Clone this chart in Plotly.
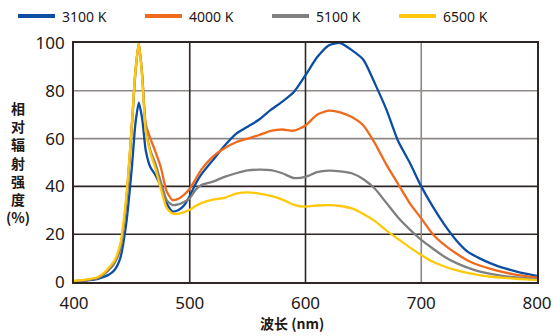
import plotly.graph_objects as go

# Relative spectral power distributions (wavelength in nm, intensity in %)
wl_3100 = [400, 410, 420, 425, 430, 435, 440, 445, 450, 453, 456, 459, 462, 466, 470, 475, 480, 485, 490, 495, 500, 505, 510, 520, 530, 540, 550, 560, 570, 580, 590, 600, 610, 620, 630, 640, 650, 660, 670, 680, 690, 700, 710, 720, 730, 740, 750, 760, 770, 780, 790, 800]
val_3100 = [0.3, 0.6, 1.2, 2, 3, 5, 10, 24, 48, 66, 75, 68, 55, 48, 45, 40, 33, 29.5, 30, 32, 36, 41, 45, 51, 57, 62, 65, 68, 72, 75.5, 79.5, 86.5, 94, 99, 100, 97, 93, 83, 72, 59, 50, 40, 31.5, 24, 17.6, 12.7, 10, 7.8, 6, 4.7, 3.5, 2.5]

wl_4000 = [400, 410, 420, 425, 430, 435, 440, 445, 450, 453, 456, 459, 462, 466, 470, 475, 480, 485, 490, 495, 500, 505, 510, 520, 530, 540, 550, 560, 570, 580, 590, 600, 610, 620, 630, 640, 650, 660, 670, 680, 690, 700, 710, 720, 730, 740, 750, 760, 770, 780, 790, 800]
val_4000 = [0.4, 0.8, 1.6, 3, 5, 8, 14, 33, 66, 88, 100, 86, 66, 60, 55, 48, 38, 34.3, 34.8, 36.5, 39, 43, 47, 52.5, 56, 58.5, 60, 61.5, 63.2, 63.8, 63.3, 65.5, 70, 71.7, 71, 69, 65.5, 58, 49, 41, 33, 26.6, 20, 15.5, 12, 9, 7, 5.5, 4.2, 3.2, 2.5, 1.8]

wl_5100 = [400, 410, 420, 425, 430, 435, 440, 445, 450, 453, 456, 459, 462, 466, 470, 475, 480, 485, 490, 495, 500, 505, 510, 520, 530, 540, 550, 560, 570, 580, 590, 600, 610, 620, 630, 640, 650, 660, 670, 680, 690, 700, 710, 720, 730, 740, 750, 760, 770, 780, 790, 800]
val_5100 = [0.4, 0.8, 1.6, 3, 5, 8, 14, 32, 65, 87, 100, 86, 64, 55, 50, 42, 34.3, 32.2, 32.5, 33.5, 35, 38.5, 40.6, 42, 44, 45.5, 46.7, 47, 46.8, 45.5, 43.5, 44, 46, 46.6, 46.3, 45.5, 43, 39, 33, 27, 22, 17.6, 14, 10.6, 8, 6, 4.4, 3.4, 2.6, 2, 1.6, 1.2]

wl_6500 = [400, 410, 420, 425, 430, 435, 440, 445, 450, 453, 456, 459, 462, 466, 470, 475, 480, 485, 490, 495, 500, 505, 510, 520, 530, 540, 550, 560, 570, 580, 590, 600, 610, 620, 630, 640, 650, 660, 670, 680, 690, 700, 710, 720, 730, 740, 750, 760, 770, 780, 790, 800]
val_6500 = [0.5, 1, 2, 3.5, 6, 9, 16, 35, 66, 88, 100, 85, 63, 54, 48, 39, 31, 28.7, 28.5, 29.2, 30.2, 31.8, 33, 34.5, 35.2, 37, 37.5, 37, 36, 34.5, 32.3, 31.5, 32, 32.2, 31.8, 30.8, 28.5, 25.5, 21.5, 18, 14.5, 11.3, 8.5, 6.5, 5, 3.8, 2.9, 2.2, 1.8, 1.4, 1.1, 0.8]

series_names = ["3100 K", "4000 K", "5100 K", "6500 K"]
series_colors = ["#0b4ea2", "#f06a1c", "#7f7f7f", "#ffc80a"]

x_ticks = [400, 500, 600, 700, 800]
y_ticks = [0, 20, 40, 60, 80, 100]

dark = "#2e2624"
light = "#8e8886"

# plot-area geometry in pixels (used to place the key and titles)
W, H = 555, 336
ML, MR, MT, MB = 74, 18, 43, 54
PW, PH = W - ML - MR, H - MT - MB


def px_x(p):
    return (p - ML) / PW


def px_y(p):
    return (H - MB - p) / PH


fig = go.Figure()
series = [(wl_3100, val_3100), (wl_4000, val_4000), (wl_5100, val_5100), (wl_6500, val_6500)]
for (wl, val), name, color in zip(series, series_names, series_colors):
    fig.add_trace(go.Scatter(
        x=wl, y=val, name=name, mode="lines",
        line=dict(color=color, width=2.3, shape="spline", smoothing=0.6),
    ))

shapes = []
# grid lines with the mixed dark / light tones
for yv, c in [(20, dark), (40, dark), (60, light), (80, light)]:
    shapes.append(dict(type="line", xref="x", yref="y", x0=400, x1=800, y0=yv, y1=yv,
                       line=dict(color=c, width=1.6), layer="below"))
for xv, c in [(500, dark), (600, dark), (700, light)]:
    shapes.append(dict(type="line", xref="x", yref="y", x0=xv, x1=xv, y0=0, y1=100,
                       line=dict(color=c, width=1.6), layer="below"))

# key row above the plot
annotations = []
key_y = px_y(16)
for i, (name, color) in enumerate(zip(series_names, series_colors)):
    x0 = 18 + i * 127
    shapes.append(dict(type="line", xref="paper", yref="paper",
                       x0=px_x(x0), x1=px_x(x0 + 37), y0=key_y, y1=key_y,
                       line=dict(color=color, width=4)))
    annotations.append(dict(text=name, xref="paper", yref="paper",
                            x=px_x(x0 + 42), y=key_y, xanchor="left", yanchor="middle",
                            showarrow=False, font=dict(size=14, color="#231815")))

# vertical (stacked) y title
annotations.append(dict(
    text="<b>相<br>对<br>辐<br>射<br>强<br>度<br>(%)</b>",
    xref="paper", yref="paper", x=px_x(18), y=px_y(162), xanchor="center", yanchor="middle",
    showarrow=False, align="center",
    font=dict(size=14, family="Noto Sans CJK SC, sans-serif", color="#231815"),
))
# x title
annotations.append(dict(
    text="<b>波长 (nm)</b>",
    xref="paper", yref="paper", x=px_x(292), y=px_y(323), xanchor="center", yanchor="middle",
    showarrow=False,
    font=dict(size=14, family="Noto Sans CJK SC, sans-serif", color="#231815"),
))

fig.update_layout(
    width=W, height=H,
    margin=dict(l=ML, r=MR, t=MT, b=MB),
    paper_bgcolor="white", plot_bgcolor="white",
    font=dict(family="Noto Sans, sans-serif", color="#231815"),
    shapes=shapes,
    annotations=annotations,
    showlegend=False,
    xaxis=dict(
        range=[400, 800], tickvals=x_ticks, ticktext=[str(v) for v in x_ticks],
        showgrid=False, zeroline=False, showline=True, linecolor=dark, linewidth=1.8,
        mirror=True, ticks="", tickfont=dict(size=17, color="#231815"), ticklabelstandoff=5,
        automargin=False,
    ),
    yaxis=dict(
        range=[0, 100], tickvals=y_ticks, ticktext=[str(v) for v in y_ticks],
        showgrid=False, zeroline=False, showline=True, linecolor=dark, linewidth=1.8,
        mirror=True, ticks="", tickfont=dict(size=17, color="#231815"), ticklabelstandoff=4,
        automargin=False,
    ),
)

fig.write_html("out.html")
